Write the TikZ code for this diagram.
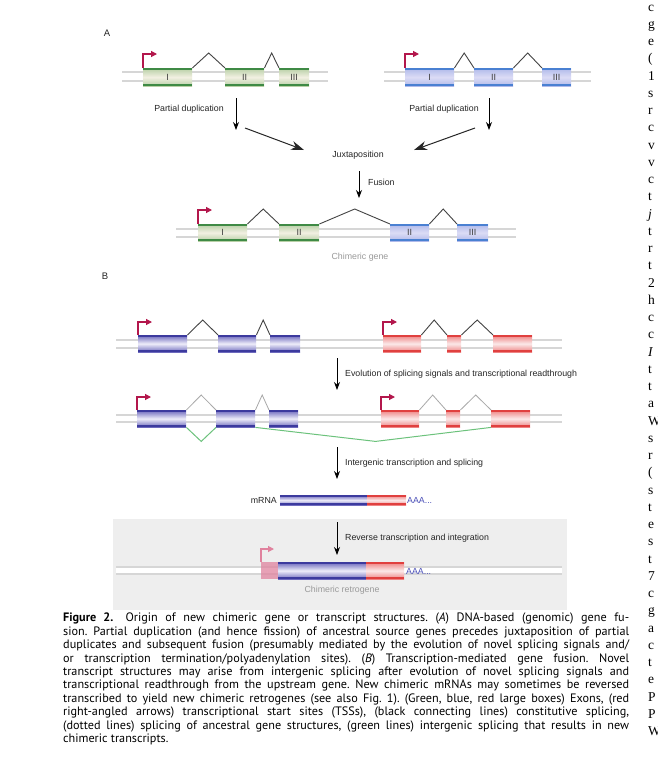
\documentclass[tikz,border=0pt]{standalone}
\usepackage{fontspec}
\setmainfont{Liberation Sans}
\newfontfamily\capfont{PT Sans}
\newfontfamily\colfont{Liberation Serif}
\usetikzlibrary{arrows.meta,calc}
\definecolor{dnagray}{HTML}{D6D6D6}
\definecolor{tsscol}{HTML}{B3174C}
\definecolor{tsspink}{HTML}{E0829E}
\definecolor{gedge}{HTML}{3F8A45}
\definecolor{gmid}{HTML}{F2F0E2}
\definecolor{gtop}{HTML}{B7CFA5}
\definecolor{bedge}{HTML}{4A80D2}
\definecolor{btop}{HTML}{AFB9EA}
\definecolor{bmid}{HTML}{DCDCF5}
\definecolor{pedge}{HTML}{3C3A9E}
\definecolor{ptop}{HTML}{6A66BC}
\definecolor{pmid}{HTML}{EEEDF9}
\definecolor{redge}{HTML}{E0403F}
\definecolor{rtop}{HTML}{EE8080}
\definecolor{rmid}{HTML}{FBE9E9}
\definecolor{splgray}{HTML}{444444}
\definecolor{spllight}{HTML}{A8A8A8}
\definecolor{igreen}{HTML}{6CC27C}
\definecolor{boxgray}{HTML}{EEEEEE}
\definecolor{aaablue}{HTML}{4A4FB8}
\definecolor{labgray}{HTML}{9A9A9A}
\newcommand\exedges[1]{%
  \draw[#1, line width=2pt] ([yshift=-1pt]path picture bounding box.north west) -- ([yshift=-1pt]path picture bounding box.north east);
  \draw[#1, line width=2pt] ([yshift=1pt]path picture bounding box.south west) -- ([yshift=1pt]path picture bounding box.south east);}
\tikzset{
  exonbase/.style={inner sep=0, anchor=north west, font=\fontsize{9}{9}\selectfont, text=black!75},
  exG/.style={exonbase, top color=gtop, bottom color=gtop, middle color=gmid, path picture={\exedges{gedge}}},
  exB/.style={exonbase, top color=btop, bottom color=btop, middle color=bmid, path picture={\exedges{bedge}}},
  exP/.style={exonbase, top color=ptop, bottom color=ptop, middle color=pmid, path picture={\exedges{pedge}}},
  exR/.style={exonbase, top color=rtop, bottom color=rtop, middle color=rmid, path picture={\exedges{redge}}},
  exK/.style={exonbase, fill=tsspink, fill opacity=0.75},
  dnaln/.style={draw=dnagray, line width=2pt},
  splice/.style={draw=splgray, line width=0.9pt},
  splicelt/.style={draw=spllight, line width=0.8pt},
  igsplice/.style={draw=igreen, line width=1pt},
  tss/.style={draw=tsscol, line width=1.2pt, -{Triangle[length=6pt,width=6pt]}},
  tsslt/.style={draw=tsspink, line width=1.2pt, -{Triangle[length=6pt,width=6pt]}},
  arr/.style={draw=black, line width=0.9pt, -{Stealth[length=8pt,width=6pt]}},
  bigarr/.style={draw=black!85, line width=1pt, -{Stealth[length=13pt,width=9pt]}},
  lab/.style={font=\fontsize{8.8}{10}\selectfont, text=black!85, inner sep=0},
  glab/.style={font=\fontsize{8.8}{10}\selectfont, text=labgray, inner sep=0},
  panel/.style={font=\fontsize{9.5}{10}\selectfont, text=black!85, inner sep=0}
}
\newcommand\dna[4]{\draw[dnaln] (#1,#3) -- (#2,#3); \draw[dnaln] (#1,#4) -- (#2,#4);}
\begin{document}
\begin{tikzpicture}[x=1pt,y=-1pt]
\useasboundingbox (0,0) rectangle (658,780);
\fill[white] (0,0) rectangle (658,780);

% ---------------- Panel A ----------------
\node[panel] (labA) at (107,33) {A};
\dna{122}{328}{72}{81}
\node[exG, minimum width=49, minimum height=18] (aI) at (143,68) {I};
\node[exG, minimum width=39, minimum height=18] (aII) at (225,68) {II};
\node[exG, minimum width=30, minimum height=18] (aIII) at (279,68) {III};
\draw[splice] (aI.north east) -- ($(aI.north east)!.5!(aII.north west)+(0,-15)$) -- (aII.north west);
\draw[splice] (aII.north east) -- ($(aII.north east)!.5!(aIII.north west)+(0,-15)$) -- (aIII.north west);
\draw[tss] (aI.north west) -- ++(0,-14) -- ++(14,0);

\dna{384}{591}{72}{81}
\node[exB, minimum width=49, minimum height=18] (bI) at (405,68) {I};
\node[exB, minimum width=39, minimum height=18] (bII) at (474,68) {II};
\node[exB, minimum width=29, minimum height=18] (bIII) at (542,68) {III};
\draw[splice] (bI.north east) -- ($(bI.north east)!.5!(bII.north west)+(0,-15)$) -- (bII.north west);
\draw[splice] (bII.north east) -- ($(bII.north east)!.5!(bIII.north west)+(0,-15)$) -- (bIII.north west);
\draw[tss] (bI.north west) -- ++(0,-14) -- ++(14,0);

\node[lab] (pd1) at (189,109) {Partial duplication};
\node[lab] (pd2) at (444,109) {Partial duplication};
\coordinate (pa1) at (236,98); \coordinate (pa1e) at (236,130);
\coordinate (pa2) at (489,98); \coordinate (pa2e) at (489,130);
\draw[arr] (pa1) -- (pa1e);
\draw[arr] (pa2) -- (pa2e);

\node[lab] (jux) at (358,155) {Juxtaposition};
\coordinate (dl) at (245,128); \coordinate (dle) at (304,150);
\coordinate (dr) at (475,128); \coordinate (dre) at (414,150);
\draw[bigarr] (dl) -- (dle);
\draw[bigarr] (dr) -- (dre);

\coordinate (fu) at (359,171); \coordinate (fue) at (359,198);
\draw[arr] (fu) -- (fue);
\node[lab, anchor=west] (fus) at (368,182) {Fusion};

\dna{176}{516}{229}{237}
\node[exG, minimum width=49, minimum height=17] (cI) at (198,224) {I};
\node[exG, minimum width=40, minimum height=17] (cII) at (279,224) {II};
\node[exB, minimum width=39, minimum height=17] (cIIb) at (390,224) {II};
\node[exB, minimum width=31, minimum height=17] (cIII) at (457,224) {III};
\draw[splice] (cI.north east) -- ($(cI.north east)!.5!(cII.north west)+(0,-15)$) -- (cII.north west);
\draw[splice] (cII.north east) -- ($(cII.north east)!.5!(cIIb.north west)+(0,-15)$) -- (cIIb.north west);
\draw[splice] (cIIb.north east) -- ($(cIIb.north east)!.5!(cIII.north west)+(0,-15)$) -- (cIII.north west);
\draw[tss] (cI.north west) -- ++(0,-14) -- ++(14,0);
\node[glab] (cg) at (360,257) {Chimeric gene};

% ---------------- Panel B ----------------
\node[panel] (labB) at (105,276) {B};
\dna{116}{562}{340}{348}
\node[exP, minimum width=49, minimum height=17] (p1) at (138,335) {};
\node[exP, minimum width=38, minimum height=17] (p2) at (218,335) {};
\node[exP, minimum width=30, minimum height=17] (p3) at (270,335) {};
\node[exR, minimum width=38, minimum height=17] (r1) at (383,335) {};
\node[exR, minimum width=14, minimum height=17] (r2) at (447,335) {};
\node[exR, minimum width=39, minimum height=17] (r3) at (493,335) {};
\draw[splice] (p1.north east) -- ($(p1.north east)!.5!(p2.north west)+(0,-15)$) -- (p2.north west);
\draw[splice] (p2.north east) -- ($(p2.north east)!.5!(p3.north west)+(0,-15)$) -- (p3.north west);
\draw[splice] (r1.north east) -- ($(r1.north east)!.5!(r2.north west)+(0,-15)$) -- (r2.north west);
\draw[splice] (r2.north east) -- ($(r2.north east)!.5!(r3.north west)+(0,-15)$) -- (r3.north west);
\draw[tss] (p1.north west) -- ++(0,-13) -- ++(14,0);
\draw[tss] (r1.north west) -- ++(0,-13) -- ++(14,0);

\coordinate (e1) at (337,358); \coordinate (e1e) at (337,390);
\draw[arr] (e1) -- (e1e);
\node[lab, anchor=west] (evo) at (345,374) {Evolution of splicing signals and transcriptional readthrough};

\dna{116}{562}{415}{422}
\node[exP, minimum width=49, minimum height=17] (q1) at (137,410) {};
\node[exP, minimum width=39, minimum height=17] (q2) at (216,410) {};
\node[exP, minimum width=29, minimum height=17] (q3) at (269,410) {};
\node[exR, minimum width=38, minimum height=17] (s1) at (381,410) {};
\node[exR, minimum width=14, minimum height=17] (s2) at (446,410) {};
\node[exR, minimum width=39, minimum height=17] (s3) at (491,410) {};
\draw[splicelt] (q1.north east) -- ($(q1.north east)!.5!(q2.north west)+(0,-15)$) -- (q2.north west);
\draw[splicelt] (q2.north east) -- ($(q2.north east)!.5!(q3.north west)+(0,-15)$) -- (q3.north west);
\draw[splicelt] (s1.north east) -- ($(s1.north east)!.5!(s2.north west)+(0,-15)$) -- (s2.north west);
\draw[splicelt] (s2.north east) -- ($(s2.north east)!.5!(s3.north west)+(0,-15)$) -- (s3.north west);
\draw[igsplice] (q1.south east) -- ($(q1.south east)!.5!(q2.south west)+(0,14)$) -- (q2.south west);
\draw[igsplice] (q2.south east) -- ($(q2.south east)!.51!(s3.south west)+(0,14)$) -- (s3.south west);
\draw[tss] (q1.north west) -- ++(0,-13) -- ++(14,0);
\draw[tss] (s1.north west) -- ++(0,-13) -- ++(14,0);

\coordinate (e2) at (337,447); \coordinate (e2e) at (337,479);
\draw[arr] (e2) -- (e2e);
\node[lab, anchor=west] (igt) at (345,463) {Intergenic transcription and splicing};

\node[exP, minimum width=87, minimum height=10] (m1) at (280,495) {};
\node[exR, minimum width=39, minimum height=10] (m2) at (367,495) {};
\node[lab, anchor=east] (mrna) at (277,500) {mRNA};
\node[lab, anchor=west, text=aaablue] (aaa1) at (407,500) {AAA...};

\fill[boxgray] (113,519) rectangle (567,610);
\coordinate (e3) at (337,522); \coordinate (e3e) at (337,555);
\draw[arr] (e3) -- (e3e);
\node[lab, anchor=west] (rti) at (345,538) {Reverse transcription and integration};
\fill[white] (116,567) rectangle (562,574);
\dna{116}{562}{567}{574}
\node[exK, minimum width=17, minimum height=17] (k1) at (261,562) {};
\node[exP, minimum width=88, minimum height=17] (k2) at (278,562) {};
\node[exR, minimum width=38, minimum height=17] (k3) at (366,562) {};
\draw[tsslt] (k1.north west) -- ++(0,-13) -- ++(13,0);
\node[lab, anchor=west, text=aaablue] (aaa2) at (406,571) {AAA...};
\node[glab] (crg) at (342,590) {Chimeric retrogene};

% ---------------- Caption ----------------
\node[anchor=north west, inner sep=0, align=left, font=\capfont\fontsize{12.2}{13.4}\selectfont\frenchspacing, text=black] (cap) at (63,613) {%
\makebox[566pt][s]{\textbf{Figure 2.}\quad Origin of new chimeric gene or transcript structures. (\textit{A}) DNA-based (genomic) gene fu-}\\
\makebox[566pt][s]{sion. Partial duplication (and hence fission) of ancestral source genes precedes juxtaposition of partial}\\
\makebox[566pt][s]{duplicates and subsequent fusion (presumably mediated by the evolution of novel splicing signals and/}\\
\makebox[566pt][s]{or transcription termination/polyadenylation sites). (\textit{B}) Transcription-mediated gene fusion. Novel}\\
\makebox[566pt][s]{transcript structures may arise from intergenic splicing after evolution of novel splicing signals and}\\
\makebox[566pt][s]{transcriptional readthrough from the upstream gene. New chimeric mRNAs may sometimes be reversed}\\
\makebox[566pt][s]{transcribed to yield new chimeric retrogenes (see also Fig. 1). (Green, blue, red large boxes) Exons, (red}\\
\makebox[566pt][s]{right-angled arrows) transcriptional start sites (TSSs), (black connecting lines) constitutive splicing,}\\
\makebox[566pt][s]{(dotted lines) splicing of ancestral gene structures, (green lines) intergenic splicing that results in new}\\
chimeric transcripts.};

% ---------------- neighbouring column (cut off) ----------------
\foreach \ch [count=\i from 0] in {c,g,e,{(},1,s,r,c,v,v,c,t,{\textit{j}},t,r,t,2,h,c,c,{\textit{I}},t,t,a,W,s,r,{(},s,t,e,s,t,7,c,g,a,c,t,e,P,P,W}
  \node[anchor=base west, inner sep=0, font=\colfont\fontsize{13.5}{14}\selectfont] (col\i) at (648,{11+17.25*\i}) {\ch};
\end{tikzpicture}
\end{document}
